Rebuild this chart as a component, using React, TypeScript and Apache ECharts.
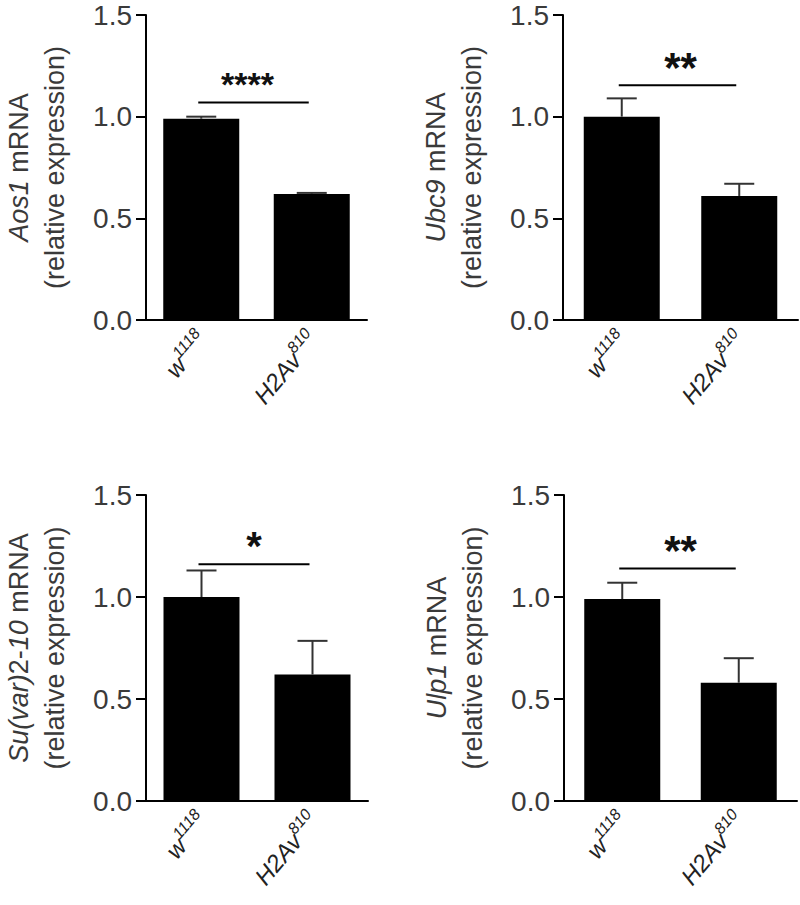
import React, { useEffect, useRef } from "react";
import * as echarts from "echarts";

// ---- data ----
const categories = ["w1118", "H2Av810"];
const yTicks = [0.0, 0.5, 1.0, 1.5];

const aos1Mean = [0.99, 0.62];
const aos1Err = [0.01, 0.005];
const ubc9Mean = [1.0, 0.61];
const ubc9Err = [0.09, 0.06];
const suvarMean = [1.0, 0.62];
const suvarErr = [0.13, 0.165];
const ulp1Mean = [0.99, 0.58];
const ulp1Err = [0.08, 0.12];

const sigLevels = [1.07, 1.155, 1.16, 1.14];
const sigStars = ["****", "**", "*", "**"];

const FONT = "'Liberation Sans', Arial, Helvetica, sans-serif";

const panels = [
  { mean: aos1Mean, err: aos1Err, name: "{it|Aos1}{n| mRNA}\n{n|(relative expression)}" },
  { mean: ubc9Mean, err: ubc9Err, name: "{it|Ubc9}{n| mRNA}\n{n|(relative expression)}" },
  { mean: suvarMean, err: suvarErr, name: "{it|Su(var)}{n|2-}{it|10}{n| mRNA}\n{n|(relative expression)}" },
  { mean: ulp1Mean, err: ulp1Err, name: "{it|Ulp1}{n| mRNA}\n{n|(relative expression)}" },
];

const grids = [
  { left: 137, top: 15, width: 230, height: 305 },
  { left: 563, top: 15, width: 235, height: 305 },
  { left: 137, top: 495, width: 231, height: 306 },
  { left: 564, top: 495, width: 233, height: 306 },
];

const starSizes = [34, 42, 40, 42];
const starShift = [-9, 0, -3, 0];

export default function App() {
  const ref = useRef<HTMLDivElement>(null);
  useEffect(() => {
    if (!ref.current) return;
    const chart = echarts.init(ref.current, undefined, { renderer: "svg" });

    const xAxis: any[] = [];
    const yAxis: any[] = [];
    const series: any[] = [];

    panels.forEach((p, i) => {
      xAxis.push({
        gridIndex: i,
        type: "category",
        data: categories,
        axisLine: { show: true, lineStyle: { color: "#000", width: 2 } },
        axisTick: { show: false },
        axisLabel: {
          rotate: 50,
          interval: 0,
          margin: 14,
          color: "#222",
          formatter: (_v: string, idx: number) =>
            idx === 0 ? "{b|w}{s|1118}" : "{b|H2Av}{s|810}",
          rich: {
            b: { fontStyle: "italic", fontSize: 24, fontFamily: FONT, color: "#222", lineHeight: 28, verticalAlign: "bottom" },
            s: { fontStyle: "italic", fontSize: 16, fontFamily: FONT, color: "#222", lineHeight: 16, verticalAlign: "top" },
          },
        },
        splitLine: { show: false },
      });
      yAxis.push({
        gridIndex: i,
        type: "value",
        min: yTicks[0],
        max: yTicks[yTicks.length - 1],
        interval: 0.5,
        axisLine: { show: true, lineStyle: { color: "#000", width: 2 } },
        axisTick: { show: true, length: 10, lineStyle: { color: "#000", width: 2 } },
        axisLabel: {
          formatter: (v: number) => v.toFixed(1),
          fontSize: 28,
          color: "#3a3a3a",
          margin: 14,
          fontFamily: FONT,
        },
        splitLine: { show: false },
        name: p.name,
        nameLocation: "middle",
        nameRotate: 90,
        nameGap: 73,
        nameTextStyle: {
          fontSize: 27,
          color: "#3a3a3a",
          fontFamily: FONT,
          lineHeight: 36,
          rich: {
            it: { fontStyle: "italic", fontSize: 27, fontFamily: FONT, color: "#3a3a3a", lineHeight: 36 },
            n: { fontSize: 27, fontFamily: FONT, color: "#3a3a3a", lineHeight: 36 },
          },
        },
      });
      series.push({
        type: "bar",
        xAxisIndex: i,
        yAxisIndex: i,
        data: p.mean,
        barWidth: 76,
        itemStyle: { color: "#000" },
        silent: true,
      });
      series.push({
        type: "custom",
        xAxisIndex: i,
        yAxisIndex: i,
        encode: { x: 0, y: 1 },
        data: p.mean.map((m, k) => [k, m, p.err[k]]),
        renderItem: (_params: any, api: any) => {
          const x = api.value(0);
          const m = api.value(1);
          const e = api.value(2);
          const p0 = api.coord([x, m]);
          const p1 = api.coord([x, m + e]);
          const style = { stroke: "#333", lineWidth: 2, fill: "none" };
          return {
            type: "group",
            children: [
              { type: "line", shape: { x1: p0[0], y1: p0[1], x2: p1[0], y2: p1[1] }, style },
              { type: "line", shape: { x1: p1[0] - 15, y1: p1[1], x2: p1[0] + 15, y2: p1[1] }, style },
            ],
          };
        },
        z: 3,
        silent: true,
      });
      series.push({
        type: "custom",
        xAxisIndex: i,
        yAxisIndex: i,
        encode: { x: 0, y: 2 },
        data: [[0, 1, sigLevels[i]]],
        renderItem: (_params: any, api: any) => {
          const y = api.value(2);
          const a = api.coord([0, y]);
          const b = api.coord([1, y]);
          return {
            type: "group",
            children: [
              { type: "line", shape: { x1: a[0] - 3, y1: a[1], x2: b[0] - 3, y2: b[1] }, style: { stroke: "#000", lineWidth: 2 } },
              {
                type: "text",
                x: (a[0] + b[0]) / 2 + starShift[i],
                y: a[1] - 18,
                style: {
                  text: sigStars[i],
                  fontSize: starSizes[i],
                  fontWeight: "bold",
                  fontFamily: FONT,
                  fill: "#111",
                  align: "center",
                  verticalAlign: "middle",
                },
              },
            ],
          };
        },
        z: 4,
        silent: true,
      });
    });

    chart.setOption({
      animation: false,
      backgroundColor: "#fff",
      textStyle: { fontFamily: FONT },
      grid: grids.map((g) => ({ ...g, containLabel: false })),
      xAxis,
      yAxis,
      series,
    });
    return () => chart.dispose();
  }, []);

  return (
    <div
      ref={ref}
      style={{ position: "absolute", left: 0, top: 0, width: 800, height: 905, background: "#fff" }}
    />
  );
}
